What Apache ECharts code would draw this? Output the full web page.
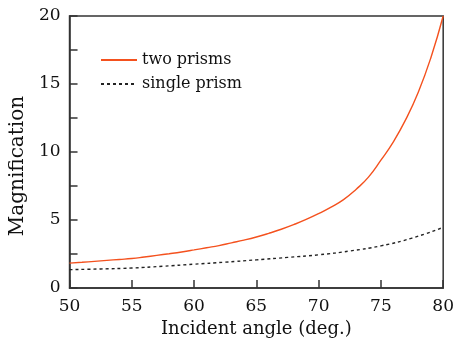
<!DOCTYPE html>
<html>
<head>
  <meta charset="utf-8">
</head>
<body style="margin: 0">
  <div id="container" style="width: 457px; height: 345px"></div>
  <script src="https://cdn.jsdelivr.net/npm/echarts@6/dist/echarts.min.js"></script>
  <script>
    // data
    var twoAngle = [50, 51, 52, 53, 54, 55, 56, 57, 58, 59, 60, 61, 62, 63, 64, 65,
                    66, 67, 68, 69, 70, 71, 72, 73, 74, 75, 76, 77, 78, 79, 80];
    var twoMag = [1.83, 1.89, 1.96, 2.03, 2.10, 2.17, 2.28, 2.40, 2.52, 2.65, 2.80, 2.96, 3.12, 3.32, 3.52, 3.75,
                  4.02, 4.32, 4.66, 5.04, 5.47, 5.95, 6.5, 7.25, 8.15, 9.4, 10.75, 12.4, 14.4, 16.9, 20];
    var singleAngle = [50, 52.5, 55, 57.5, 60, 62.5, 65, 67.5, 70, 72.5, 75, 77.5, 80];
    var singleMag = [1.35, 1.4, 1.47, 1.6, 1.75, 1.9, 2.07, 2.25, 2.44, 2.72, 3.1, 3.67, 4.46];

    function pairs(xs, ys) {
      return xs.map(function (x, i) { return [x, ys[i]]; });
    }

    var font = 'DejaVu Serif';
    var chart = echarts.init(document.getElementById('container'), null, { renderer: 'canvas' });

    var option = {
      animation: false,
      grid: {
        left: 68, right: 10, top: 16, bottom: 57,
        show: true, borderColor: '#333', borderWidth: 1.5
      },
      legend: {
        orient: 'vertical',
        left: 100, top: 52, padding: 0,
        itemWidth: 36, itemHeight: 14, itemGap: 8,
        itemStyle: { opacity: 0 },
        textStyle: { fontFamily: font, fontSize: 16, color: '#111' },
        data: ['two prisms', 'single prism']
      },
      xAxis: {
        type: 'value', min: 50, max: 80, interval: 5,
        name: 'Incident angle (deg.)', nameLocation: 'middle', nameGap: 30,
        nameTextStyle: { fontFamily: font, fontSize: 18, color: '#111' },
        axisLine: { lineStyle: { color: '#333', width: 1.5 } },
        axisTick: { inside: true, length: 8, lineStyle: { color: '#333', width: 1.5 } },
        axisLabel: { fontFamily: font, fontSize: 17, color: '#111', margin: 10 },
        splitLine: { show: false }
      },
      yAxis: {
        type: 'value', min: 0, max: 20, interval: 5,
        name: 'Magnification', nameLocation: 'middle', nameGap: 38,
        nameTextStyle: { fontFamily: font, fontSize: 20, color: '#111', padding: [0, 28, 0, 0] },
        axisLine: { show: true, lineStyle: { color: '#333', width: 1.5 } },
        axisTick: { show: true, inside: true, length: 8, lineStyle: { color: '#333', width: 1.5 } },
        minorTick: { show: true, splitNumber: 2, length: 8, lineStyle: { color: '#333', width: 1.5 } },
        axisLabel: { fontFamily: font, fontSize: 17, color: '#111', margin: 9 },
        splitLine: { show: false }
      },
      series: [
        {
          name: 'two prisms', type: 'line', smooth: true, symbol: 'none',
          lineStyle: { color: '#f4511e', width: 1.4 },
          itemStyle: { color: '#f4511e' },
          data: pairs(twoAngle, twoMag)
        },
        {
          name: 'single prism', type: 'line', smooth: true, symbol: 'none',
          lineStyle: { color: '#222', width: 1.4, type: [3, 3] },
          itemStyle: { color: '#222' },
          data: pairs(singleAngle, singleMag)
        }
      ]
    };

    chart.setOption(option);
  </script>
</body>
</html>
